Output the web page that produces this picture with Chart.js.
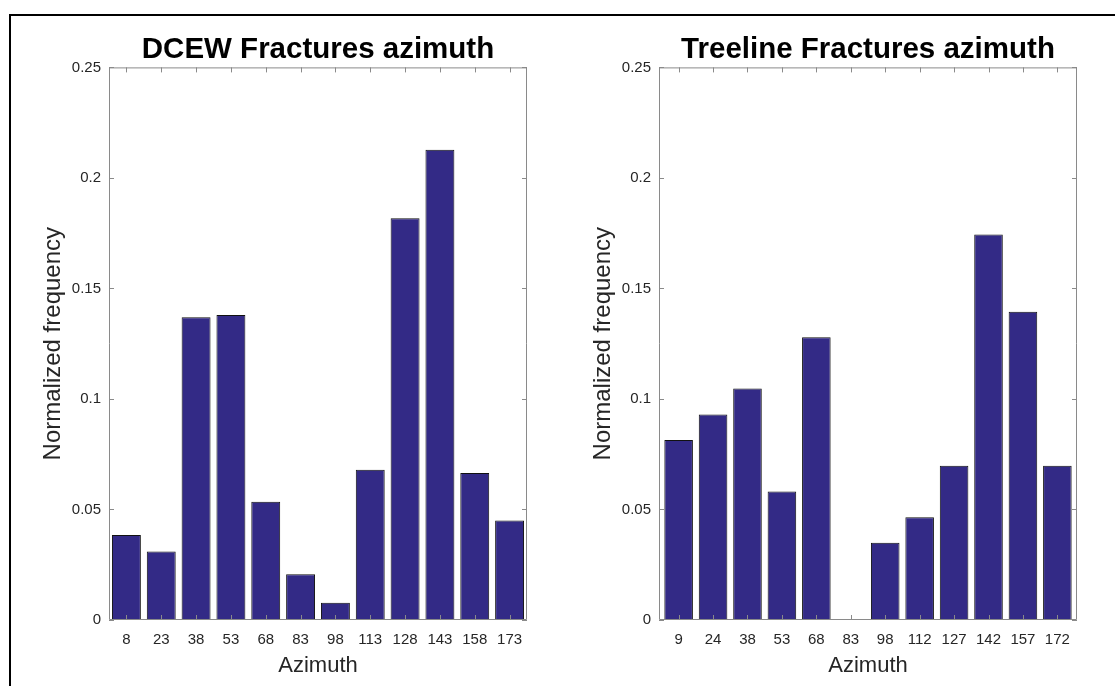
<!DOCTYPE html>
<html>
<head>
<meta charset="utf-8">
<script src="https://cdn.jsdelivr.net/npm/chart.js@4/dist/chart.umd.min.js"></script>
<style>
  html, body { margin: 0; padding: 0; background: #fff; overflow: hidden; }
  #page { position: relative; width: 1115px; height: 686px; }
  #frame { position: absolute; left: 9px; top: 14px; right: -10px; bottom: -10px;
           border-top: 2px solid #000; border-left: 2px solid #000; }
  canvas { position: absolute; top: 0; }
  #left { left: 10px; }
  #right { left: 560px; }
</style>
</head>
<body>
<div id="page">
  <div id="frame"></div>
  <canvas id="left" width="550" height="686"></canvas>
  <canvas id="right" width="555" height="686"></canvas>
</div>
<script>
// DCEW panel
const dcewLabels = ['8', '23', '38', '53', '68', '83', '98', '113', '128', '143', '158', '173'];
const dcewFreq = [0.0385, 0.031, 0.137, 0.138, 0.0535, 0.0207, 0.0078, 0.068, 0.1818, 0.2127, 0.0665, 0.045];

// Treeline panel
const treeLabels = ['9', '24', '38', '53', '68', '83', '98', '112', '127', '142', '157', '172'];
const treeFreq = [0.0814, 0.093, 0.1047, 0.0581, 0.1279, 0, 0.0349, 0.0465, 0.0698, 0.1744, 0.1395, 0.0698];

// shared y axis
const yTicks = [0, 0.05, 0.1, 0.15, 0.2, 0.25];
const yTickLabels = ['0', '0.05', '0.1', '0.15', '0.2', '0.25'];

const FONT = "'Liberation Sans', Arial, Helvetica, sans-serif";
const barColor = '#332a86';
const axisColor = '#8a8a8a';
const textColor = '#262626';
const tickLen = 5;

// MATLAB style box with inward ticks on all four sides
const boxTicks = {
  id: 'boxTicks',
  afterDatasetsDraw(chart) {
    const { ctx, chartArea: a, scales: { x, y } } = chart;
    ctx.save();
    ctx.strokeStyle = axisColor;
    ctx.lineWidth = 1;
    ctx.beginPath();
    ctx.rect(a.left + 0.5, a.top + 0.5, a.width - 1, a.height - 1);
    x.ticks.forEach(t => {
      const px = Math.round(x.getPixelForValue(t.value)) + 0.5;
      ctx.moveTo(px, a.bottom); ctx.lineTo(px, a.bottom - tickLen);
      ctx.moveTo(px, a.top); ctx.lineTo(px, a.top + tickLen);
    });
    y.ticks.forEach(t => {
      const py = Math.round(y.getPixelForValue(t.value)) + 0.5;
      ctx.moveTo(a.left, py); ctx.lineTo(a.left + tickLen, py);
      ctx.moveTo(a.right, py); ctx.lineTo(a.right - tickLen, py);
    });
    ctx.stroke();
    ctx.restore();
  }
};

function makeChart(id, title, labels, values, xMin, xMax, rightPad) {
  const ctx = document.getElementById(id).getContext('2d');
  return new Chart(ctx, {
    type: 'bar',
    data: {
      datasets: [{
        data: values.map((v, i) => ({ x: i + 1, y: v })),
        backgroundColor: barColor,
        borderColor: '#111',
        borderWidth: 1,
        barPercentage: 0.83,
        categoryPercentage: 1
      }]
    },
    options: {
      responsive: false,
      animation: false,
      devicePixelRatio: 1,
      layout: { padding: { left: 0, right: rightPad, top: 0, bottom: 0 } },
      plugins: {
        legend: { display: false },
        tooltip: { enabled: false },
        title: {
          display: true,
          text: title,
          fullSize: false,
          color: '#000',
          font: { family: FONT, size: 29.5, weight: 'bold', lineHeight: 1.2 },
          padding: { top: 32, bottom: 0 }
        }
      },
      scales: {
        x: {
          type: 'linear',
          offset: false,
          min: xMin,
          max: xMax,
          grid: { display: false, drawTicks: false },
          border: { display: false },
          afterBuildTicks: s => { s.ticks = labels.map((_, i) => ({ value: i + 1 })); },
          afterFit: s => { s.height = 66; },
          ticks: {
            autoSkip: false,
            maxRotation: 0,
            padding: 11,
            color: textColor,
            font: { family: FONT, size: 15 },
            callback: (v) => labels[Math.round(v) - 1]
          },
          title: {
            display: true,
            text: 'Azimuth',
            color: textColor,
            font: { family: FONT, size: 22 },
            padding: { top: 0, bottom: 7 }
          }
        },
        y: {
          min: 0,
          max: 0.25,
          grid: { display: false, drawTicks: false },
          border: { display: false },
          afterBuildTicks: s => { s.ticks = yTicks.map(v => ({ value: v })); },
          afterFit: s => { s.width = 99; },
          ticks: {
            padding: 8,
            color: textColor,
            font: { family: FONT, size: 15 },
            callback: (v) => yTickLabels[yTicks.indexOf(v)] ?? ''
          },
          title: {
            display: true,
            text: 'Normalized frequency',
            color: textColor,
            font: { family: FONT, size: 24 },
            padding: { top: 28.6, bottom: 0 }
          }
        }
      }
    },
    plugins: [boxTicks]
  });
}

makeChart('left', 'DCEW Fractures azimuth', dcewLabels, dcewFreq, 0.5, 12.5, 33);
makeChart('right', 'Treeline Fractures azimuth', treeLabels, treeFreq, 0.43, 12.57, 38);
</script>
</body>
</html>
